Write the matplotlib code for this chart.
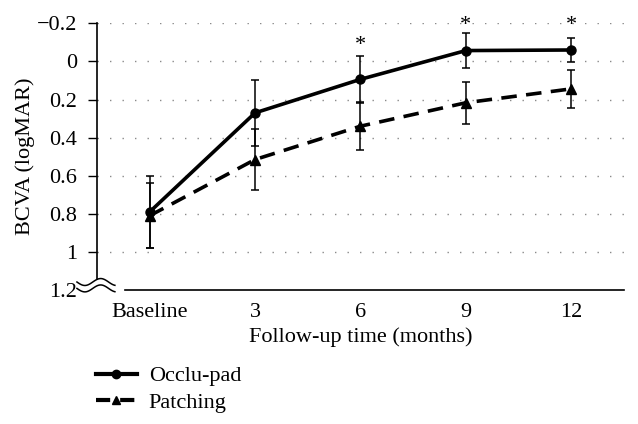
import numpy as np
from matplotlib import pyplot as plt
from matplotlib.lines import Line2D

plt.rcParams["font.family"] = ["Liberation Serif", "DejaVu Serif"]

categories = ["Baseline", "3", "6", "9", "12"]
occlu_mean = [0.79, 0.27, 0.094, -0.057, -0.06]
occlu_sd = [0.19, 0.175, 0.125, 0.09, 0.065]
patch_mean = [0.81, 0.515, 0.34, 0.217, 0.144]
patch_sd = [0.17, 0.16, 0.125, 0.11, 0.10]
# significance markers (category index, y position of the asterisk)
star_idx = [2, 3, 4]
star_y = [-0.085, -0.19, -0.19]
y_ticks = [-0.2, 0, 0.2, 0.4, 0.6, 0.8, 1.0, 1.2]
y_tick_labels = ["\u22120.2", "0", "0.2", "0.4", "0.6", "0.8", "1", "1.2"]

FS = 16
DASH = (0, (4.3, 2.6))

fig = plt.figure(figsize=(6.38, 4.24), dpi=100)
ax = fig.add_axes([0.152, 0.316, 0.826, 0.629])

x = np.arange(len(categories))

ax.errorbar(x, occlu_mean, yerr=occlu_sd, color="black", lw=2.6, marker="o", ms=6.5,
            ecolor="black", elinewidth=1.1, capsize=3, capthick=1.1, zorder=3)
ax.errorbar(x, patch_mean, yerr=patch_sd, color="black", lw=2.6, ls=DASH, marker="^", ms=6.5,
            ecolor="black", elinewidth=1.1, capsize=3, capthick=1.1, zorder=3)

for i, yy in zip(star_idx, star_y):
    ax.text(x[i], yy, "*", ha="center", va="center", fontsize=FS, clip_on=False)

ax.set_xlim(-0.5, 4.5)
ax.set_ylim(1.2, -0.2)
ax.set_xticks(x)
ax.set_xticklabels(categories)
ax.set_yticks(y_ticks)
ax.set_yticklabels(y_tick_labels)
ax.tick_params(axis="x", length=0, pad=9, labelsize=FS)
ax.tick_params(axis="y", length=6.5, width=1.0, pad=8, labelsize=FS, direction="out")
ax.yaxis.get_major_ticks()[-1].tick1line.set_visible(False)

for y in y_ticks[:-1]:
    ax.axhline(y, color="#8a8a8a", lw=1.0, ls=(0, (1, 8)), zorder=0)

for side in ["top", "right"]:
    ax.spines[side].set_visible(False)
ax.spines["left"].set_bounds(-0.2, 1.14)
ax.spines["bottom"].set_bounds(-0.235, 4.5)
ax.spines["left"].set_linewidth(1.2)
ax.spines["bottom"].set_linewidth(1.2)

# axis break squiggles
t = np.linspace(0, 1, 60)
wx = -0.038 + 0.072 * t
for wy in [0.03, 0.006]:
    ax.plot(wx, wy - 0.013 * np.sin(2.4 * np.pi * t), color="black", lw=1.1,
            transform=ax.transAxes, clip_on=False)

ax.set_xlabel("Follow-up time (months)", fontsize=FS, labelpad=4)
ax.set_ylabel("BCVA (logMAR)", fontsize=FS)
ax.yaxis.set_label_coords(-0.118, 0.5)

handles = [
    Line2D([], [], color="black", lw=3.0, marker="o", ms=6),
    Line2D([], [], color="black", lw=3.0, ls=(0, (3.4, 2.4)), marker="^", ms=6),
]
fig.legend(handles, ["Occlu-pad", "Patching"], loc="upper left", bbox_to_anchor=(0.136, 0.158),
           frameon=False, fontsize=FS, handlelength=1.85, handletextpad=0.54, labelspacing=0.25,
           borderaxespad=0)

fig.savefig("out.png", dpi=100)
plt.close(fig)
